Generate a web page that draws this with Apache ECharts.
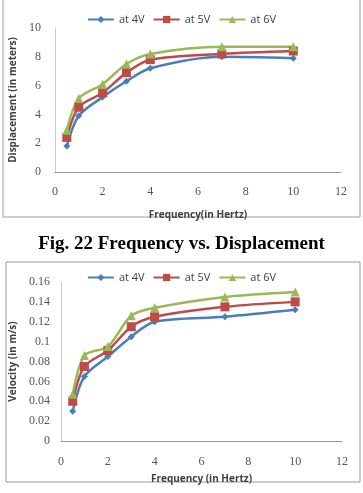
<!DOCTYPE html>
<html>
<head>
<meta charset="utf-8">
<script src="https://cdn.jsdelivr.net/npm/echarts@6/dist/echarts.min.js"></script>
<style>
  html, body { margin: 0; padding: 0; background: #fff; }
  #chart { width: 363px; height: 493px; }
</style>
</head>
<body>
<div id="chart"></div>
<script>
// frequency values (Hz)
const freq = [0.5, 1, 2, 3, 4, 7, 10]
const seriesNames = ['at 4V', 'at 5V', 'at 6V']

// displacement (m)
const disp4V = [1.8, 3.9, 5.2, 6.3, 7.2, 8.0, 7.9]
const disp5V = [2.4, 4.5, 5.5, 6.9, 7.8, 8.2, 8.4]
const disp6V = [2.9, 5.1, 6.1, 7.5, 8.2, 8.7, 8.7]

// velocity (m/s)
const vel4V = [0.03, 0.065, 0.085, 0.105, 0.12, 0.125, 0.132]
const vel5V = [0.04, 0.075, 0.091, 0.115, 0.125, 0.135, 0.14]
const vel6V = [0.047, 0.086, 0.095, 0.126, 0.134, 0.145, 0.15]

const colors = ['#4a7ebb', '#be4b48', '#98b954']
const symbols = ['diamond', 'rect', 'triangle']
const symbolSizes = [7, 9, 9]

const pairs = (ys) => freq.map((x, i) => [x, ys[i]])

const chart = echarts.init(document.getElementById('chart'))

const axisNameStyle = {
  fontFamily: 'Open Sans, sans-serif',
  fontWeight: 'bold',
  fontSize: 10,
  color: '#404040'
}
const tickLabelStyle = {
  fontFamily: 'Liberation Serif, serif',
  fontSize: 12,
  color: '#555'
}

function makeSeries (data, gridIdx) {
  return data.map((ys, i) => ({
    name: seriesNames[i],
    type: 'line',
    smooth: 0.3,
    xAxisIndex: gridIdx,
    yAxisIndex: gridIdx,
    data: pairs(ys),
    symbol: symbols[i],
    symbolSize: symbolSizes[i],
    color: colors[i],
    lineStyle: { width: 2.5, color: colors[i] },
    itemStyle: { color: colors[i] },
    animation: false
  }))
}

function legend (top) {
  return {
    top: top,
    left: 'center',
    itemWidth: 26,
    itemHeight: 9,
    itemGap: 8,
    textStyle: { fontFamily: 'Open Sans, sans-serif', fontSize: 11, color: '#404040' },
    data: seriesNames
  }
}

chart.setOption({
  color: colors,
  title: {
    text: 'Fig. 22 Frequency vs. Displacement',
    left: 'center',
    top: 230,
    textStyle: { fontFamily: 'Liberation Serif, serif', fontWeight: 'bold', fontSize: 19, color: '#000' }
  },
  graphic: [
    { type: 'rect', shape: { x: 3, y: -1, width: 357, height: 218 }, style: { fill: 'none', stroke: '#9a9a9a', lineWidth: 1 } },
    { type: 'rect', shape: { x: 6, y: 262, width: 354, height: 220 }, style: { fill: 'none', stroke: '#9a9a9a', lineWidth: 1 } }
  ],
  legend: [legend(9), legend(267)],
  grid: [
    { left: 49, top: 28, width: 292, height: 144 },
    { left: 59, top: 282, width: 283, height: 159 }
  ],
  xAxis: [0, 1].map(g => ({
    type: 'value',
    gridIndex: g,
    min: 0,
    max: 12,
    interval: 2,
    name: g === 0 ? 'Frequency(in Hertz)' : 'Frequency (in Hertz)',
    nameLocation: 'middle',
    nameGap: g === 0 ? 38 : 33,
    nameTextStyle: axisNameStyle,
    axisLine: { lineStyle: { color: '#999' } },
    axisTick: { show: false },
    axisLabel: Object.assign({ margin: g === 0 ? 14 : 15 }, tickLabelStyle),
    splitLine: { show: false }
  })),
  yAxis: [
    {
      type: 'value',
      gridIndex: 0,
      min: 0,
      max: 10,
      interval: 2,
      name: 'Displacement (in meters)',
      nameLocation: 'middle',
      nameGap: 33,
      nameTextStyle: axisNameStyle,
      axisLine: { show: true, lineStyle: { color: '#ccc' } },
      axisTick: { show: false },
      axisLabel: Object.assign({ margin: 14 }, tickLabelStyle),
      splitLine: { show: false }
    },
    {
      type: 'value',
      gridIndex: 1,
      min: 0,
      max: 0.16,
      interval: 0.02,
      name: 'Velocity (in m/s)',
      nameLocation: 'middle',
      nameGap: 43,
      nameTextStyle: axisNameStyle,
      axisLine: { show: true, lineStyle: { color: '#ccc' } },
      axisTick: { show: false },
      axisLabel: Object.assign({ margin: 11 }, tickLabelStyle),
      splitLine: { show: false }
    }
  ],
  series: [
    ...makeSeries([disp4V, disp5V, disp6V], 0),
    ...makeSeries([vel4V, vel5V, vel6V], 1)
  ]
})
</script>
</body>
</html>
